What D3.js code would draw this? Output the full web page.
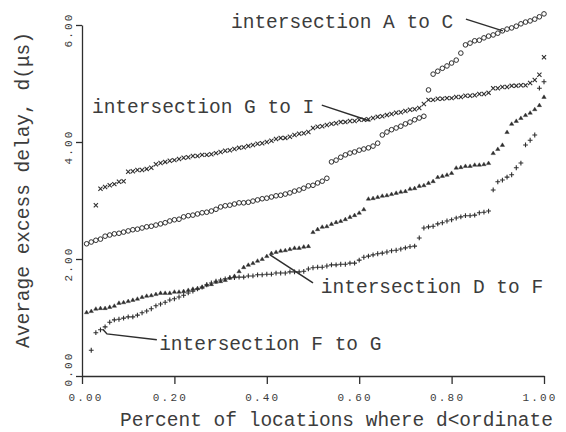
<!DOCTYPE html>
<html><head><meta charset="utf-8">
<script src="https://cdn.jsdelivr.net/npm/d3@7"></script>
<style>
body{margin:0;background:#fff;}
svg{display:block;}
</style></head>
<body>
<svg id="c" width="566" height="432"></svg>
<script>
const percent = [0.01,0.02,0.03,0.04,0.05,0.06,0.07,0.08,0.09,0.10,
0.11,0.12,0.13,0.14,0.15,0.16,0.17,0.18,0.19,0.20,
0.21,0.22,0.23,0.24,0.25,0.26,0.27,0.28,0.29,0.30,
0.31,0.32,0.33,0.34,0.35,0.36,0.37,0.38,0.39,0.40,
0.41,0.42,0.43,0.44,0.45,0.46,0.47,0.48,0.49,0.50,
0.51,0.52,0.53,0.54,0.55,0.56,0.57,0.58,0.59,0.60,
0.61,0.62,0.63,0.64,0.65,0.66,0.67,0.68,0.69,0.70,
0.71,0.72,0.73,0.74,0.75,0.76,0.77,0.78,0.79,0.80,
0.81,0.82,0.83,0.84,0.85,0.86,0.87,0.88,0.89,0.90,
0.91,0.92,0.93,0.94,0.95,0.96,0.97,0.98,0.99,1.00];

const delayAtoC = [2.26,2.29,2.32,2.34,2.39,2.41,2.43,2.44,2.46,2.48,
2.50,2.51,2.53,2.55,2.56,2.58,2.60,2.62,2.65,2.67,
2.68,2.72,2.74,2.75,2.77,2.79,2.80,2.82,2.85,2.89,
2.91,2.92,2.94,2.96,2.96,2.97,2.99,3.01,3.03,3.04,
3.06,3.08,3.09,3.11,3.13,3.16,3.18,3.21,3.25,3.26,
3.30,3.33,3.38,3.66,3.69,3.74,3.78,3.81,3.83,3.86,
3.88,3.90,3.93,3.98,4.12,4.17,4.21,4.24,4.27,4.31,
4.34,4.38,4.41,4.44,4.89,5.16,5.21,5.26,5.30,5.35,
5.40,5.52,5.66,5.69,5.73,5.74,5.78,5.81,5.83,5.86,
5.90,5.93,5.95,5.98,6.02,6.05,6.07,6.10,6.14,6.19];

const delayGtoI = [null,null,2.92,3.20,3.23,3.26,3.28,3.32,3.33,3.49,
3.50,3.52,3.52,3.54,3.56,3.62,3.64,3.66,3.68,3.69,
3.71,3.73,3.74,3.76,3.76,3.78,3.78,3.79,3.81,3.83,
3.85,3.86,3.88,3.90,3.91,3.93,3.95,3.97,3.98,4.00,
4.02,4.05,4.07,4.07,4.09,4.12,4.14,4.15,4.17,4.24,
4.26,4.27,4.29,4.31,4.32,4.34,4.34,4.36,4.36,4.38,
4.38,4.39,4.41,4.43,4.44,4.46,4.48,4.50,4.51,4.53,
4.55,4.56,4.58,4.65,4.72,4.72,4.74,4.74,4.75,4.75,
4.77,4.77,4.79,4.79,4.80,4.82,4.82,4.84,4.92,4.92,
4.94,4.94,4.96,4.96,4.97,4.97,5.01,5.06,5.15,5.45];

const delayDtoF = [1.09,1.11,1.15,1.16,1.16,1.18,1.20,1.25,1.26,1.28,
1.30,1.32,1.35,1.37,1.38,1.40,1.42,1.42,1.42,1.44,
1.44,1.45,1.47,1.49,1.50,1.52,1.56,1.57,1.61,1.62,
1.64,1.68,1.71,1.79,1.86,1.90,1.93,1.97,2.00,2.05,
2.10,2.12,2.14,2.15,2.17,2.19,2.19,2.21,2.22,2.46,
2.51,2.55,2.56,2.60,2.63,2.65,2.68,2.72,2.75,2.79,
2.85,3.03,3.04,3.06,3.08,3.09,3.11,3.13,3.15,3.16,
3.20,3.21,3.25,3.26,3.30,3.33,3.40,3.42,3.44,3.47,
3.56,3.57,3.59,3.59,3.61,3.61,3.62,3.64,3.81,3.88,
3.95,4.17,4.31,4.36,4.41,4.46,4.50,4.56,4.63,4.77];

const delayFtoG = [null,0.44,0.74,0.79,0.84,0.92,0.96,0.97,0.99,1.01,
1.01,1.04,1.08,1.11,1.15,1.20,1.23,1.26,1.30,1.32,
1.35,1.38,1.42,1.45,1.49,1.52,1.56,1.59,1.62,1.64,
1.66,1.68,1.68,1.69,1.69,1.71,1.71,1.73,1.73,1.74,
1.74,1.76,1.76,1.76,1.78,1.78,1.78,1.79,1.83,1.85,
1.86,1.86,1.88,1.90,1.90,1.91,1.91,1.93,1.93,1.98,
2.03,2.05,2.07,2.09,2.10,2.12,2.14,2.15,2.17,2.19,
2.21,2.22,2.36,2.53,2.55,2.56,2.60,2.62,2.65,2.67,
2.70,2.72,2.74,2.74,2.75,2.79,2.80,2.82,3.18,3.32,
3.35,3.40,3.44,3.56,3.64,3.95,4.03,4.12,4.92,5.03];

const xTicks = [0, 0.2, 0.4, 0.6, 0.8, 1.0];
const yTicks = [0, 2, 4, 6];
const xTitle = "Percent of locations where d<ordinate";
const yTitle = "Average excess delay, d(\u03bcs)";

// annotations: label, text anchor point (data units), leader polyline (data units)
const annoLabels = ["intersection A to C","intersection G to I","intersection D to F","intersection F to G"];
const annoText = [[0.3225,5.95],[0.0216,4.50],[0.517,1.42],[0.167,0.44]];
const annoLeader = [
  [[0.831,6.10],[0.911,5.90]],
  [[0.519,4.63],[0.623,4.36]],
  [[0.500,1.59],[0.407,2.07]],
  [[0.162,0.62],[0.054,0.72],[0.045,0.80]]
];

const svg = d3.select("#c");
const x = d3.scaleLinear().domain([0,1]).range([82,544]);
const y = d3.scaleLinear().domain([0,6]).range([376,25]);
const ink = "#2e2e2e";
const textInk = "#3c3c3c";
const mono = "'Liberation Mono','DejaVu Sans Mono',monospace";

// axes
const gx = svg.append("g").attr("transform",`translate(0,${y(0)})`)
  .call(d3.axisBottom(x).tickValues(xTicks).tickSize(8).tickSizeOuter(0).tickFormat(""));
const gy = svg.append("g").attr("transform",`translate(${x(0)},0)`)
  .call(d3.axisLeft(y).tickValues(yTicks).tickSize(6).tickSizeOuter(0).tickFormat(""));
[gx,gy].forEach(g=>{
  g.selectAll("path,line").attr("stroke",ink).attr("stroke-width",1.3);
});

const fmt = d3.format(".2f");
svg.append("g").selectAll("text").data(xTicks).join("text")
  .attr("x",d=>x(d)+(d===0?4:-4)).attr("y",401)
  .attr("text-anchor","middle")
  .attr("font-family",mono).attr("font-size",11).attr("letter-spacing",2.2)
  .attr("fill",textInk).text(fmt);
svg.append("g").selectAll("text").data(yTicks).join("text")
  .attr("transform",d=>`translate(72,${y(d)+(d===0?-7:5)}) rotate(-90)`)
  .attr("text-anchor","middle")
  .attr("font-family",mono).attr("font-size",11).attr("letter-spacing",2.2)
  .attr("fill",textInk).text(fmt);

svg.append("text").attr("x",120).attr("y",426)
  .attr("font-family",mono).attr("font-size",19.5).attr("fill",textInk).text(xTitle);
svg.append("text").attr("transform","translate(29,190) rotate(-90)")
  .attr("text-anchor","middle")
  .attr("font-family",mono).attr("font-size",19.5).attr("fill",textInk).text(yTitle);

// series
function pts(vals){ return percent.map((p,i)=>({x:p,y:vals[i]})).filter(d=>d.y!=null); }
const series = [
  {vals:delayAtoC, shape:"circle"},
  {vals:delayGtoI, shape:"x"},
  {vals:delayDtoF, shape:"tri"},
  {vals:delayFtoG, shape:"plus"}
];
const shapes = {
  x:"M-2.1,-2.1L2.1,2.1M-2.1,2.1L2.1,-2.1",
  plus:"M-2.4,0H2.4M0,-2.4V2.4",
  tri:"M0,-2.1L2.2,1.5H-2.2Z"
};
series.forEach(s=>{
  const g = svg.append("g");
  const d = pts(s.vals);
  if(s.shape==="circle"){
    g.selectAll("circle").data(d).join("circle")
      .attr("cx",p=>x(p.x)).attr("cy",p=>y(p.y)).attr("r",2.3)
      .attr("fill","none").attr("stroke",ink).attr("stroke-width",1);
  } else {
    g.selectAll("path").data(d).join("path")
      .attr("transform",p=>`translate(${x(p.x)},${y(p.y)})`)
      .attr("d",shapes[s.shape])
      .attr("fill",s.shape==="tri"?ink:"none")
      .attr("stroke",ink).attr("stroke-width",s.shape==="tri"?0.4:1.1);
  }
});

// annotations
const line = d3.line().x(p=>x(p[0])).y(p=>y(p[1]));
annoLabels.forEach((lab,i)=>{
  svg.append("text").attr("x",x(annoText[i][0])).attr("y",y(annoText[i][1]))
    .attr("font-family",mono).attr("font-size",19.5).attr("fill",textInk).text(lab);
  svg.append("path").attr("d",line(annoLeader[i]))
    .attr("fill","none").attr("stroke",ink).attr("stroke-width",1.5);
});
</script>
</body></html>
